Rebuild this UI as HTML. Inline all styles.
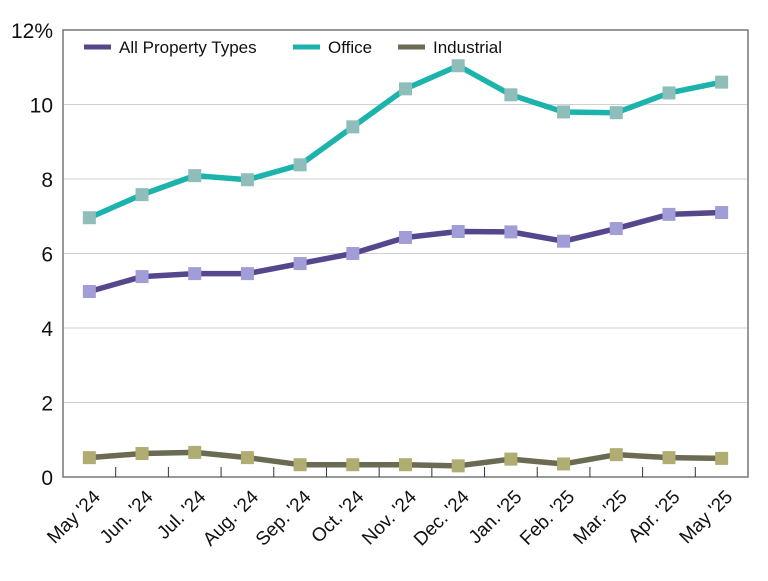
<!DOCTYPE html>
<html><head><meta charset="utf-8"><style>
body{margin:0;background:#fff;font-family:"Liberation Sans",Arial,sans-serif}
</style></head><body>
<svg id="chart" width="768" height="576" xmlns="http://www.w3.org/2000/svg" font-family="Liberation Sans, Arial, sans-serif"></svg>
<script>
const categories=["May '24","Jun. '24","Jul. '24","Aug. '24","Sep. '24","Oct. '24","Nov. '24","Dec. '24","Jan. '25","Feb. '25","Mar. '25","Apr. '25","May '25"];
const allTypes=[4.98,5.38,5.46,5.46,5.73,6.0,6.43,6.59,6.58,6.33,6.67,7.05,7.1];
const office=[6.96,7.58,8.09,7.98,8.38,9.4,10.42,11.04,10.26,9.8,9.78,10.31,10.6];
const industrial=[0.52,0.63,0.66,0.52,0.33,0.33,0.33,0.3,0.48,0.35,0.6,0.52,0.5];
const yTicks=[0,2,4,6,8,10,12];
const yTickLabels=["0","2","4","6","8","10","12%"];
const L=63,R=748,T=30,B=477,yMax=12;
const band=(R-L)/categories.length;
const x=i=>L+band*(i+0.5);
const y=v=>B-(v/yMax)*(B-T);
const svg=document.getElementById('chart');
const NS="http://www.w3.org/2000/svg";
function mk(tag,attrs,parent){const e=document.createElementNS(NS,tag);for(const k in attrs)e.setAttribute(k,attrs[k]);(parent||svg).appendChild(e);return e;}
yTicks.forEach((v,i)=>{
  if(v>0&&v<yMax){const g=mk('line',{x1:L,x2:R,y1:y(v),y2:y(v),stroke:'#d0d0d0','stroke-width':1});
  
  }
  const t=mk('text',{x:53,y:y(v)+8,'text-anchor':'end','font-size':21,fill:'#111'});
  t.textContent=yTickLabels[i];
  
  
});
const frame=mk('rect',{x:L,y:T,width:R-L,height:B-T,fill:'none',stroke:'#777','stroke-width':1.5});


categories.forEach((c,i)=>{
  if(i>0){const tk=mk('line',{x1:L+band*i,x2:L+band*i,y1:B,y2:B-10,stroke:'#333','stroke-width':1});
  
  }
  const tx=x(i)+12,ty=B+21;
  const t=mk('text',{x:tx,y:ty,'text-anchor':'end','font-size':19,fill:'#111',transform:`rotate(-45 ${tx} ${ty})`});
  t.textContent=c;
  
  
});
function series(vals,line,marker,name){
  const g=mk('g',{});
  
  
  const p=mk('polyline',{points:vals.map((v,i)=>x(i)+','+y(v)).join(' '),fill:'none',stroke:line,'stroke-width':5.5,'stroke-linejoin':'round'},g);
  
  
  vals.forEach((v,i)=>{const r=mk('rect',{x:x(i)-6.5,y:y(v)-6.5,width:13,height:13,fill:marker},g);
  
  });
}
series(industrial,'#6b6a52','#b0ad72','industrial');
series(allTypes,'#56478c','#a19dd6','all-property-types');
series(office,'#1db3ad','#8fbdb9','office');
const leg=[["All Property Types","#56478c",84],["Office","#1db3ad",293],["Industrial","#6b6a52",398]];
leg.forEach(([n,c,lx])=>{
  const g=mk('g',{});
  
  
  mk('line',{x1:lx,x2:lx+27,y1:47,y2:47,stroke:c,'stroke-width':5},g);
  const t=mk('text',{x:lx+35,y:53,'font-size':17,fill:'#111'},g);
  t.textContent=n;
});
</script>
</body></html>
